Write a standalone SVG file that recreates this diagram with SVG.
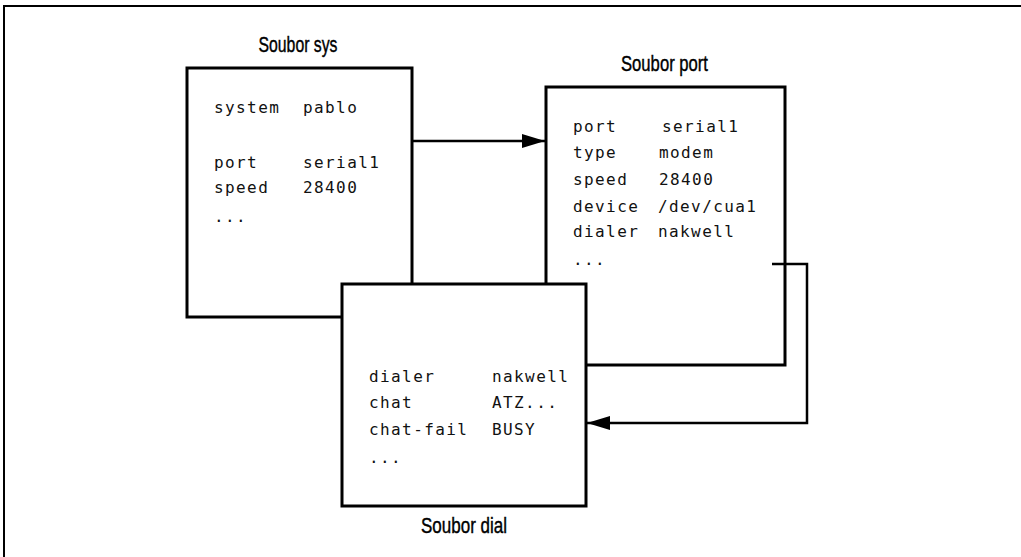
<svg xmlns="http://www.w3.org/2000/svg" width="1021" height="557" viewBox="0 0 1021 557">
<defs>
<style>
.frame{fill:none;stroke:#000;stroke-width:2}
.box{fill:#fff;stroke:#000;stroke-width:3}
.mono{font-family:"DejaVu Sans Mono","Liberation Mono",monospace;font-size:16px;letter-spacing:1.4px;fill:#111}
.title{font-family:"Liberation Sans","DejaVu Sans",sans-serif;font-size:22px;fill:#000;stroke:#000;stroke-width:0.4}
.conn{fill:none;stroke:#000;stroke-width:2.5}
</style>
<marker id="arr" markerWidth="24" markerHeight="14" refX="23" refY="7" orient="auto" markerUnits="userSpaceOnUse">
<path d="M0,0 L23,7 L0,14 Z" fill="#000"/>
</marker>
</defs>
<rect width="1021" height="557" fill="#fff"/>
<path class="frame" d="M1021,6 H4 V557"/>
<g id="sys">
<rect class="box" x="187" y="68" width="225" height="249"/>
<text class="title" x="298" y="52" text-anchor="middle" textLength="79" lengthAdjust="spacingAndGlyphs">Soubor sys</text>
<text class="mono" x="214" y="113">system</text><text class="mono" x="303" y="113">pablo</text>
<text class="mono" x="214" y="168">port</text><text class="mono" x="303" y="168">serial1</text>
<text class="mono" x="214" y="193">speed</text><text class="mono" x="303" y="193">28400</text>
<text class="mono" x="214" y="222">...</text>
</g>
<g id="port">
<rect class="box" x="546" y="87" width="239" height="278"/>
<text class="title" x="664.5" y="71" text-anchor="middle" textLength="87" lengthAdjust="spacingAndGlyphs">Soubor port</text>
<text class="mono" x="573" y="132">port</text><text class="mono" x="662" y="132">serial1</text>
<text class="mono" x="573" y="158">type</text><text class="mono" x="659" y="158">modem</text>
<text class="mono" x="573" y="185">speed</text><text class="mono" x="659" y="185">28400</text>
<text class="mono" x="573" y="212">device</text><text class="mono" x="658" y="212">/dev/cua1</text>
<text class="mono" x="573" y="237">dialer</text><text class="mono" x="658" y="237">nakwell</text>
<text class="mono" x="573" y="265">...</text>
</g>
<g id="dial">
<rect class="box" x="342" y="284" width="244" height="222"/>
<text class="title" x="464" y="533" text-anchor="middle" textLength="86" lengthAdjust="spacingAndGlyphs">Soubor dial</text>
<text class="mono" x="369" y="382">dialer</text><text class="mono" x="492" y="382">nakwell</text>
<text class="mono" x="369" y="408">chat</text><text class="mono" x="492" y="408">ATZ...</text>
<text class="mono" x="369" y="435">chat-fail</text><text class="mono" x="492" y="435">BUSY</text>
<text class="mono" x="369" y="463">...</text>
</g>
<g id="connectors">
<path class="conn" d="M412,141 H545" marker-end="url(#arr)"/>
<path class="conn" d="M772,264 H807 V423 H587" marker-end="url(#arr)"/>
</g>
</svg>
